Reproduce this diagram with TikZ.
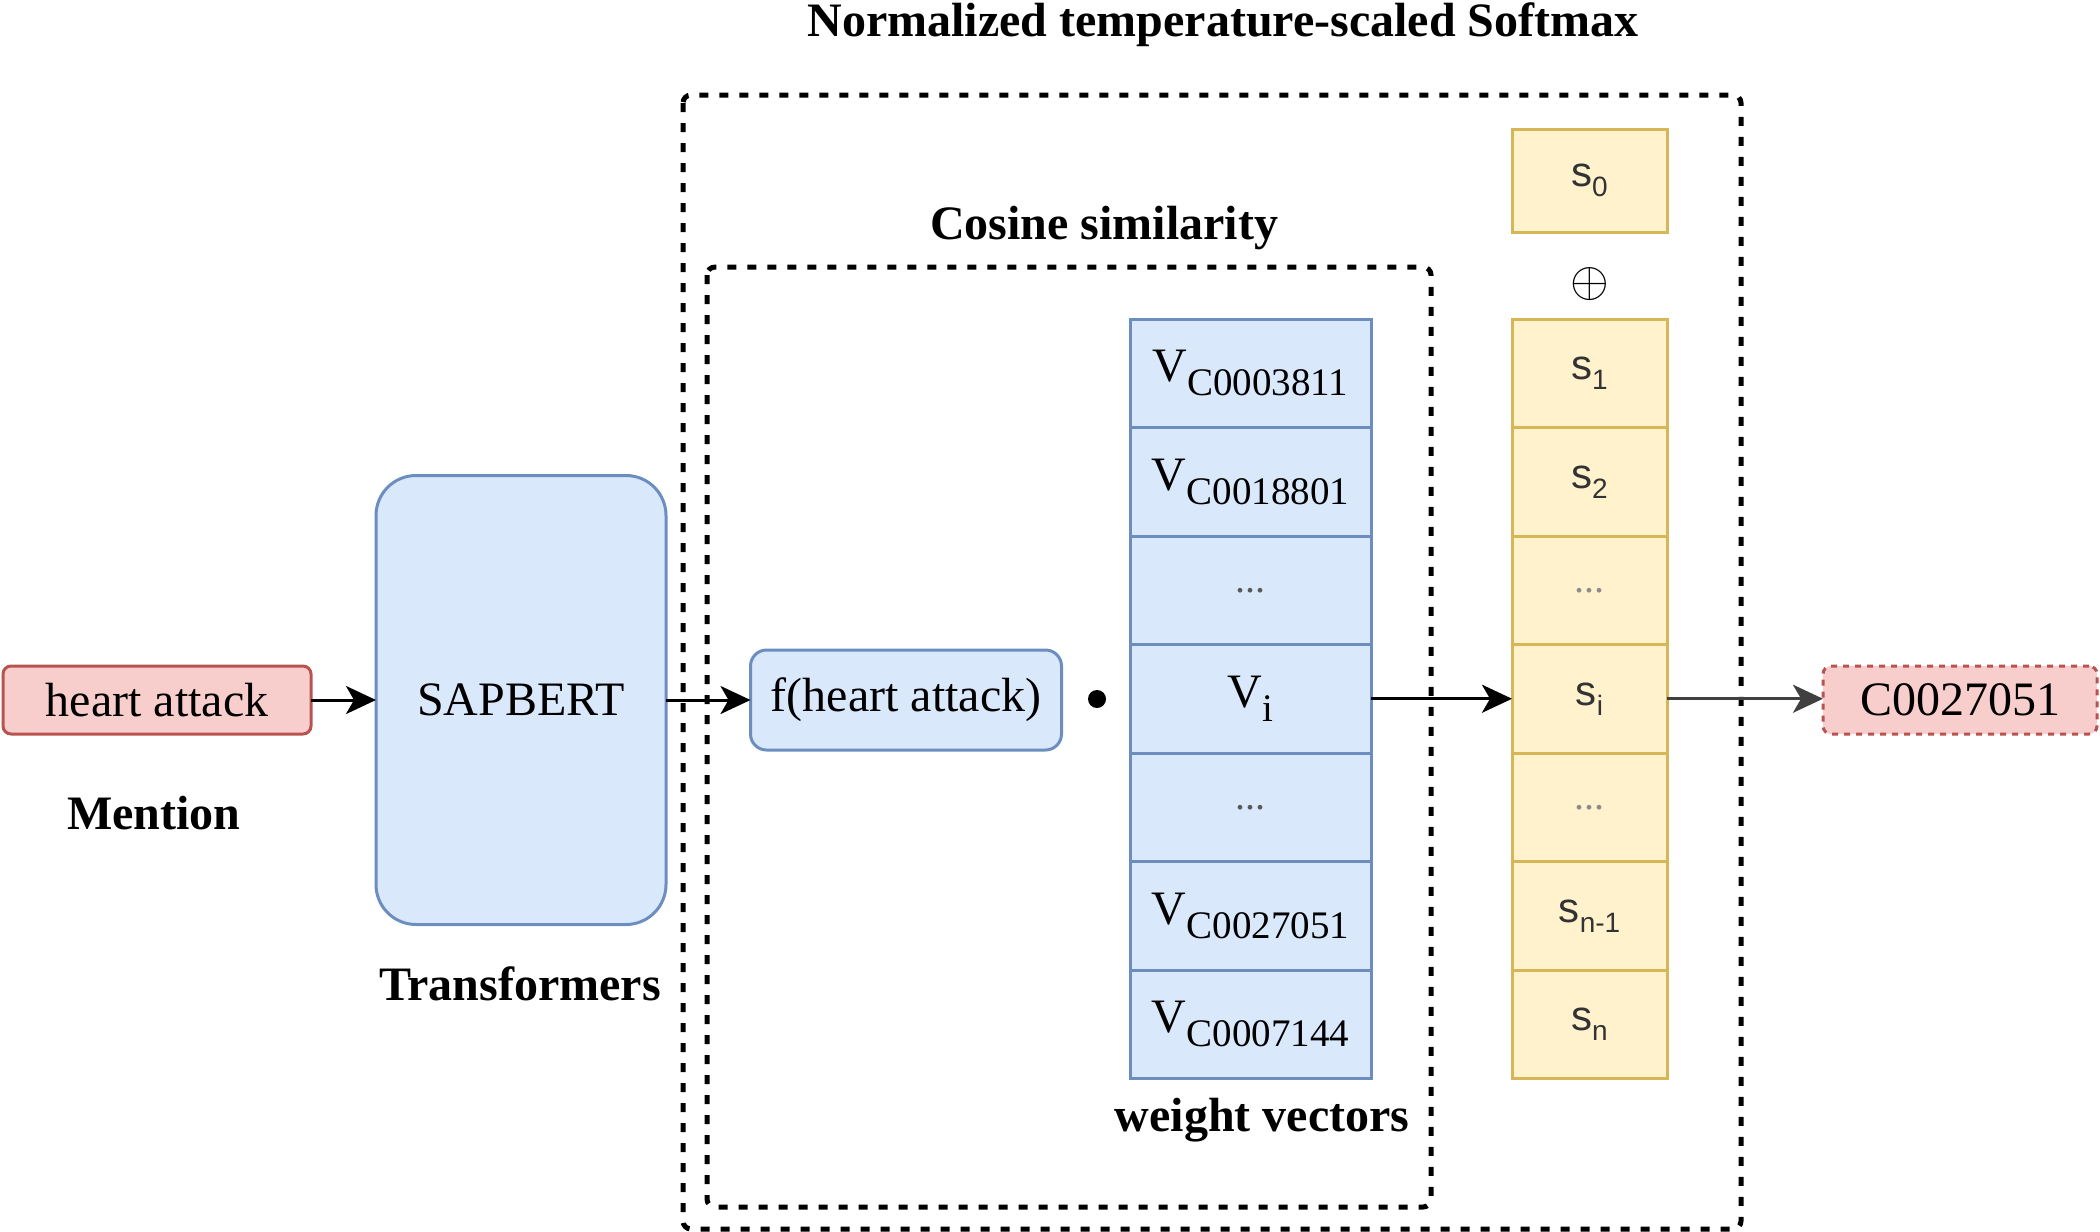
\documentclass[tikz,border=0pt]{standalone}
\usepackage{fontspec}
\setmainfont{Liberation Serif}
\newfontfamily\sansf{Liberation Sans}
\usetikzlibrary{arrows.meta}
\definecolor{bfill}{HTML}{DAE8FC}
\definecolor{bdraw}{HTML}{6C8EBF}
\definecolor{yfill}{HTML}{FFF2CC}
\definecolor{ydraw}{HTML}{D6B656}
\definecolor{rfill}{HTML}{F8CECC}
\definecolor{rdraw}{HTML}{B85450}
\newcommand{\fs}[1]{\fontsize{#1}{#1}\selectfont}
\newcommand{\vlab}[1]{V\raisebox{-7pt}{\fs{19.5}#1}}
\newcommand{\slab}[1]{{\sansf s\raisebox{-5pt}{\fs{14}#1}}}
\begin{document}
\begin{tikzpicture}[x=0.5pt,y=-0.5pt,
  every node/.style={inner sep=0pt, outer sep=0pt},
  lbl/.style={font=\fs{24}\bfseries},
  redbox/.style={draw=rdraw, fill=rfill, line width=1.5pt, rounded corners=4pt, minimum height=34pt, font=\fs{24}},
  bluebox/.style={draw=bdraw, fill=bfill, line width=1.5pt, font=\fs{24}},
  vcell/.style={bluebox, minimum width=120.5pt, minimum height=54.25pt},
  scell/.style={draw=ydraw, fill=yfill, line width=1.5pt, minimum width=77.5pt, minimum height=54.25pt, font=\fs{21}, text=black!80},
  grp/.style={draw=black, line width=2.5pt, dash pattern=on 4.5pt off 5.5pt, rounded corners=4pt},
  arr/.style={line width=1.5pt, -{Stealth[length=15pt,width=14pt,inset=4pt]}}
]
\useasboundingbox (0,0) rectangle (2100,1232);
% group frames
\draw[grp] (683,95) rectangle (1741,1229);
\draw[grp] (707,267) rectangle (1431,1207);
% labels
\node[lbl] (title) at (1223,25) {Normalized temperature-scaled Softmax};
\node[lbl] (cos) at (1104,228) {Cosine similarity};
\node[lbl] (ment) at (154,813) {Mention};
\node[lbl] (trans) at (520,984) {Transformers};
\node[lbl] (wv) at (1262,1120) {weight vectors};
% left part
\node[redbox, minimum width=154pt] (ha) at (157,700) {heart attack};
\node[bluebox, rounded corners=20pt, minimum width=145pt, minimum height=224.5pt] (sap) at (521,700) {SAPBERT};
\node[bluebox, rounded corners=8pt, minimum width=155.5pt, minimum height=50pt] (fha) at (906,700) {f(heart attack)};
\node[circle, fill=black, minimum size=9pt] (dotp) at (1097,699) {};
% weight vectors
\node[vcell] (v1) at (1250.5,373.25) {\vlab{C0003811}};
\node[vcell] (v2) at (1250.5,481.75) {\vlab{C0018801}};
\node[vcell] (v3) at (1250.5,590.25) {\textcolor{black!65}{\fs{20}...}};
\node[vcell] (v4) at (1250.5,698.75) {\vlab{i}};
\node[vcell] (v5) at (1250.5,807.25) {\textcolor{black!65}{\fs{20}...}};
\node[vcell] (v6) at (1250.5,915.75) {\vlab{C0027051}};
\node[vcell] (v7) at (1250.5,1024.25) {\vlab{C0007144}};
% scores
\node[scell, minimum height=51.5pt] (s0) at (1589.5,180.5) {\slab{0}};
\node[font=\fs{26}] (op) at (1590,284) {$\oplus$};
\node[scell] (s1) at (1589.5,373.25) {\slab{1}};
\node[scell] (s2) at (1589.5,481.75) {\slab{2}};
\node[scell] (s3) at (1589.5,590.25) {\textcolor{black!45}{\fs{20}\rmfamily...}};
\node[scell] (s4) at (1589.5,698.75) {\slab{i}};
\node[scell] (s5) at (1589.5,807.25) {\textcolor{black!45}{\fs{20}\rmfamily...}};
\node[scell] (s6) at (1589.5,915.75) {\slab{n-1}};
\node[scell] (s7) at (1589.5,1024.25) {\slab{n}};
% output
\node[redbox, dash pattern=on 3pt off 3pt, minimum width=137pt] (out) at (1960,700) {C0027051};
% arrows
\draw[arr] (ha) -- (sap);
\draw[arr] (sap) -- (fha);
\draw[arr] (v4) -- (s4);
\draw[arr, draw=black!75] (s4.east) -- (s4.east -| out.west);
\end{tikzpicture}
\end{document}
